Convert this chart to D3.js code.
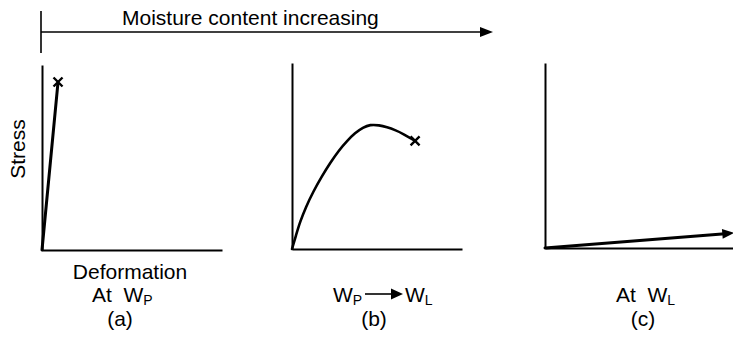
<!DOCTYPE html>
<html>
<head>
<meta charset="utf-8">
<script src="https://cdn.jsdelivr.net/npm/d3@7"></script>
<style>
  html, body { margin: 0; padding: 0; background: #fff; }
  svg { display: block; }
  text { font-family: "Liberation Sans", Arial, Helvetica, sans-serif; fill: #000; }
</style>
</head>
<body>
<svg id="chart" width="733" height="340"></svg>
<script>
// ---- Data (schematic stress–deformation curves, arbitrary units 0..10) ----
const panelIds = ["a", "b", "c"];
const panelCaptions = ["(a)", "(b)", "(c)"];
const stressLabel = "Stress";
const deformationLabel = "Deformation";
const topLabel = "Moisture content increasing";

// (a) At plastic limit: stiff, brittle failure
const curveA = [[0, 0], [0.89, 9.08]];
// (b) Between plastic and liquid limit: peak then failure
const curveB = [[0, 0], [0.24, 0.75], [0.47, 1.45], [0.82, 2.26], [1.24, 3.07], [1.77, 3.93],
                [2.24, 4.62], [2.77, 5.32], [3.24, 5.81], [3.71, 6.24], [4.18, 6.53],
                [4.59, 6.69], [5.12, 6.66], [5.59, 6.55], [6.06, 6.40], [6.53, 6.20], [7.24, 5.81]];
// (c) At liquid limit: very low stress, continuing flow
const curveC = [[0, 0], [9.75, 0.79]];

const curves = [curveA, curveB, curveC];
const endMarks = ["x", "x", "arrow"];

// ---- Layout ----
const svg = d3.select("#chart");
const panels = [
  { x0: 42,  x1: 222, y0: 250, y1: 65 },
  { x0: 292, x1: 462, y0: 249, y1: 63 },
  { x0: 545, x1: 733, y0: 248, y1: 63 }
];

// Top "moisture content increasing" arrow
svg.append("line").attr("x1", 41).attr("x2", 41).attr("y1", 11).attr("y2", 53)
  .attr("stroke", "#000").attr("stroke-width", 1.6);
svg.append("line").attr("x1", 41).attr("x2", 482).attr("y1", 32).attr("y2", 32)
  .attr("stroke", "#000").attr("stroke-width", 1.6);
svg.append("path").attr("d", "M480,27 L493,32 L480,37 Z").attr("fill", "#000");
svg.append("text").attr("x", 122).attr("y", 25).attr("font-size", 21).text(topLabel);

// Stress label
svg.append("text")
  .attr("transform", "translate(25,149) rotate(-90)")
  .attr("text-anchor", "middle").attr("font-size", 21).text(stressLabel);

panels.forEach((p, i) => {
  const x = d3.scaleLinear().domain([0, 10]).range([p.x0, p.x1]);
  const y = d3.scaleLinear().domain([0, 10]).range([p.y0, p.y1]);
  const g = svg.append("g");

  const xAxis = g.append("g").attr("transform", `translate(0,${p.y0})`)
    .call(d3.axisBottom(x).ticks(0).tickSize(0).tickSizeOuter(0));
  const yAxis = g.append("g").attr("transform", `translate(${p.x0},0)`)
    .call(d3.axisLeft(y).ticks(0).tickSize(0).tickSizeOuter(0));
  [xAxis, yAxis].forEach(ax => {
    ax.selectAll("text").remove();
    ax.select(".domain").attr("stroke", "#000").attr("stroke-width", 2);
  });

  const data = curves[i];
  const line = d3.line().x(d => x(d[0])).y(d => y(d[1]))
    .curve(data.length > 2 ? d3.curveBasis : d3.curveLinear);
  g.append("path").datum(data).attr("d", line)
    .attr("fill", "none").attr("stroke", "#000")
    .attr("stroke-width", i === 1 ? 2.6 : 3).attr("stroke-linecap", "round");

  const end = data[data.length - 1];
  const ex = x(end[0]), ey = y(end[1]);
  if (endMarks[i] === "x") {
    const s = 4.5;
    g.append("path")
      .attr("d", `M${ex - s},${ey - s} L${ex + s},${ey + s} M${ex - s},${ey + s} L${ex + s},${ey - s}`)
      .attr("stroke", "#000").attr("stroke-width", 2.4).attr("fill", "none");
  } else {
    const prev = data[data.length - 2];
    const ang = Math.atan2(ey - y(prev[1]), ex - x(prev[0]));
    g.append("path")
      .attr("d", "M-6,-5 L6,0 L-6,5 Z")
      .attr("transform", `translate(${ex},${ey}) rotate(${ang * 180 / Math.PI})`)
      .attr("fill", "#000");
  }
});

// Captions under panels
// (a)
svg.append("text").attr("x", 130).attr("y", 279).attr("text-anchor", "middle")
  .attr("font-size", 21).text(deformationLabel);
const ta = svg.append("text").attr("x", 92).attr("y", 302).attr("font-size", 21);
ta.append("tspan").text("At\u00a0\u00a0W");
ta.append("tspan").attr("font-size", 14).attr("dy", 3).text("P");

// (b)
const tb1 = svg.append("text").attr("x", 333).attr("y", 302).attr("font-size", 21);
tb1.append("tspan").text("W");
tb1.append("tspan").attr("font-size", 14).attr("dy", 3).text("P");
svg.append("line").attr("x1", 365).attr("x2", 394).attr("y1", 294).attr("y2", 294)
  .attr("stroke", "#000").attr("stroke-width", 1.6);
svg.append("path").attr("d", "M391,288.5 L403,294 L391,299.5 Z").attr("fill", "#000");
const tb2 = svg.append("text").attr("x", 405).attr("y", 302).attr("font-size", 21);
tb2.append("tspan").text("W");
tb2.append("tspan").attr("font-size", 14).attr("dy", 3).text("L");

// (c)
const tc = svg.append("text").attr("x", 616).attr("y", 302).attr("font-size", 21);
tc.append("tspan").text("At\u00a0\u00a0W");
tc.append("tspan").attr("font-size", 14).attr("dy", 3).text("L");

const capX = [120, 374, 643];
panelCaptions.forEach((c, i) => {
  svg.append("text").attr("x", capX[i]).attr("y", 326).attr("text-anchor", "middle")
    .attr("font-size", 21).text(c);
});
</script>
</body>
</html>
